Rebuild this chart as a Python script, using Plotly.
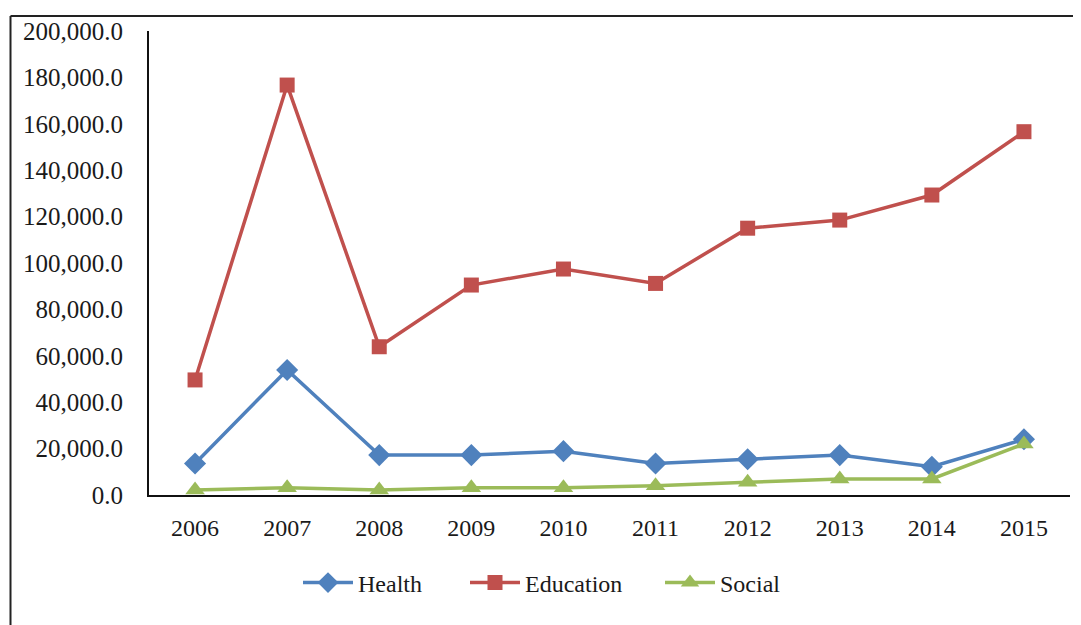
import plotly.graph_objects as go

years = ["2006", "2007", "2008", "2009", "2010", "2011", "2012", "2013", "2014", "2015"]
health = [13600, 53900, 17200, 17200, 18900, 13600, 15400, 17200, 12200, 24000]
education = [49600, 176700, 63900, 90500, 97400, 91200, 115000, 118500, 129300, 156600]
social = [2200, 3100, 2200, 3100, 3100, 4000, 5500, 6900, 6900, 22000]

FONT = "Liberation Serif"
OFF = 8  # page body margin

fig = go.Figure()
fig.add_trace(go.Scatter(x=years, y=health, name="Health", mode="lines+markers",
                         line=dict(color="#4F81BD", width=3.5),
                         marker=dict(symbol="diamond", size=17, color="#4F81BD"),
                         legend="legend"))
fig.add_trace(go.Scatter(x=years, y=education, name="Education", mode="lines+markers",
                         line=dict(color="#C0504D", width=3.5),
                         marker=dict(symbol="square", size=15, color="#C0504D"),
                         legend="legend2"))
fig.add_trace(go.Scatter(x=years, y=social, name="Social", mode="lines+markers",
                         line=dict(color="#9BBB59", width=3.5),
                         marker=dict(symbol="triangle-up", size=17, color="#9BBB59"),
                         legend="legend3"))

W, H = 1081 - OFF, 625 - OFF
L, T = 149 - OFF, 31 - OFF
R = W - (1070 - OFF)
B = H - (495 - OFF)
pw, ph = W - L - R, H - T - B
fx = (10.5 - OFF - L) / pw
fy_top = 1 + (T - (16 - OFF)) / ph


def px_x(x):
    return (x - OFF - L) / pw


leg_y = (495 - 583) / ph
leg_common = dict(orientation="h", y=leg_y, yanchor="middle", xanchor="left",
                  font=dict(family=FONT, size=24, color="#1a1a1a"), itemwidth=50,
                  bgcolor="rgba(0,0,0,0)")

fig.update_layout(
    width=W, height=H,
    margin=dict(l=L, r=R, t=T, b=B, pad=0),
    paper_bgcolor="white", plot_bgcolor="white",
    font=dict(family=FONT, color="#1a1a1a", size=22),
    showlegend=True,
    legend=dict(x=px_x(298), **leg_common),
    legend2=dict(x=px_x(465), **leg_common),
    legend3=dict(x=px_x(660), **leg_common),
    xaxis=dict(type="category", range=[-0.5, 9.5], showgrid=False, zeroline=False,
               showline=True, linecolor="#111", linewidth=2, ticks="",
               tickfont=dict(family=FONT, size=24), ticklabelstandoff=10),
    yaxis=dict(range=[0, 200000], dtick=20000, tickformat=",.1f", showgrid=False,
               zeroline=False, showline=True, linecolor="#111", linewidth=2, ticks="",
               tickfont=dict(family=FONT, size=25), ticklabelstandoff=19),
    shapes=[
        dict(type="line", xref="paper", yref="paper", x0=fx, x1=fx, y0=-1, y1=fy_top,
             line=dict(color="#222", width=2)),
        dict(type="line", xref="paper", yref="paper", x0=fx, x1=1.05, y0=fy_top, y1=fy_top,
             line=dict(color="#222", width=2)),
    ],
)

fig.write_html("out.html")
